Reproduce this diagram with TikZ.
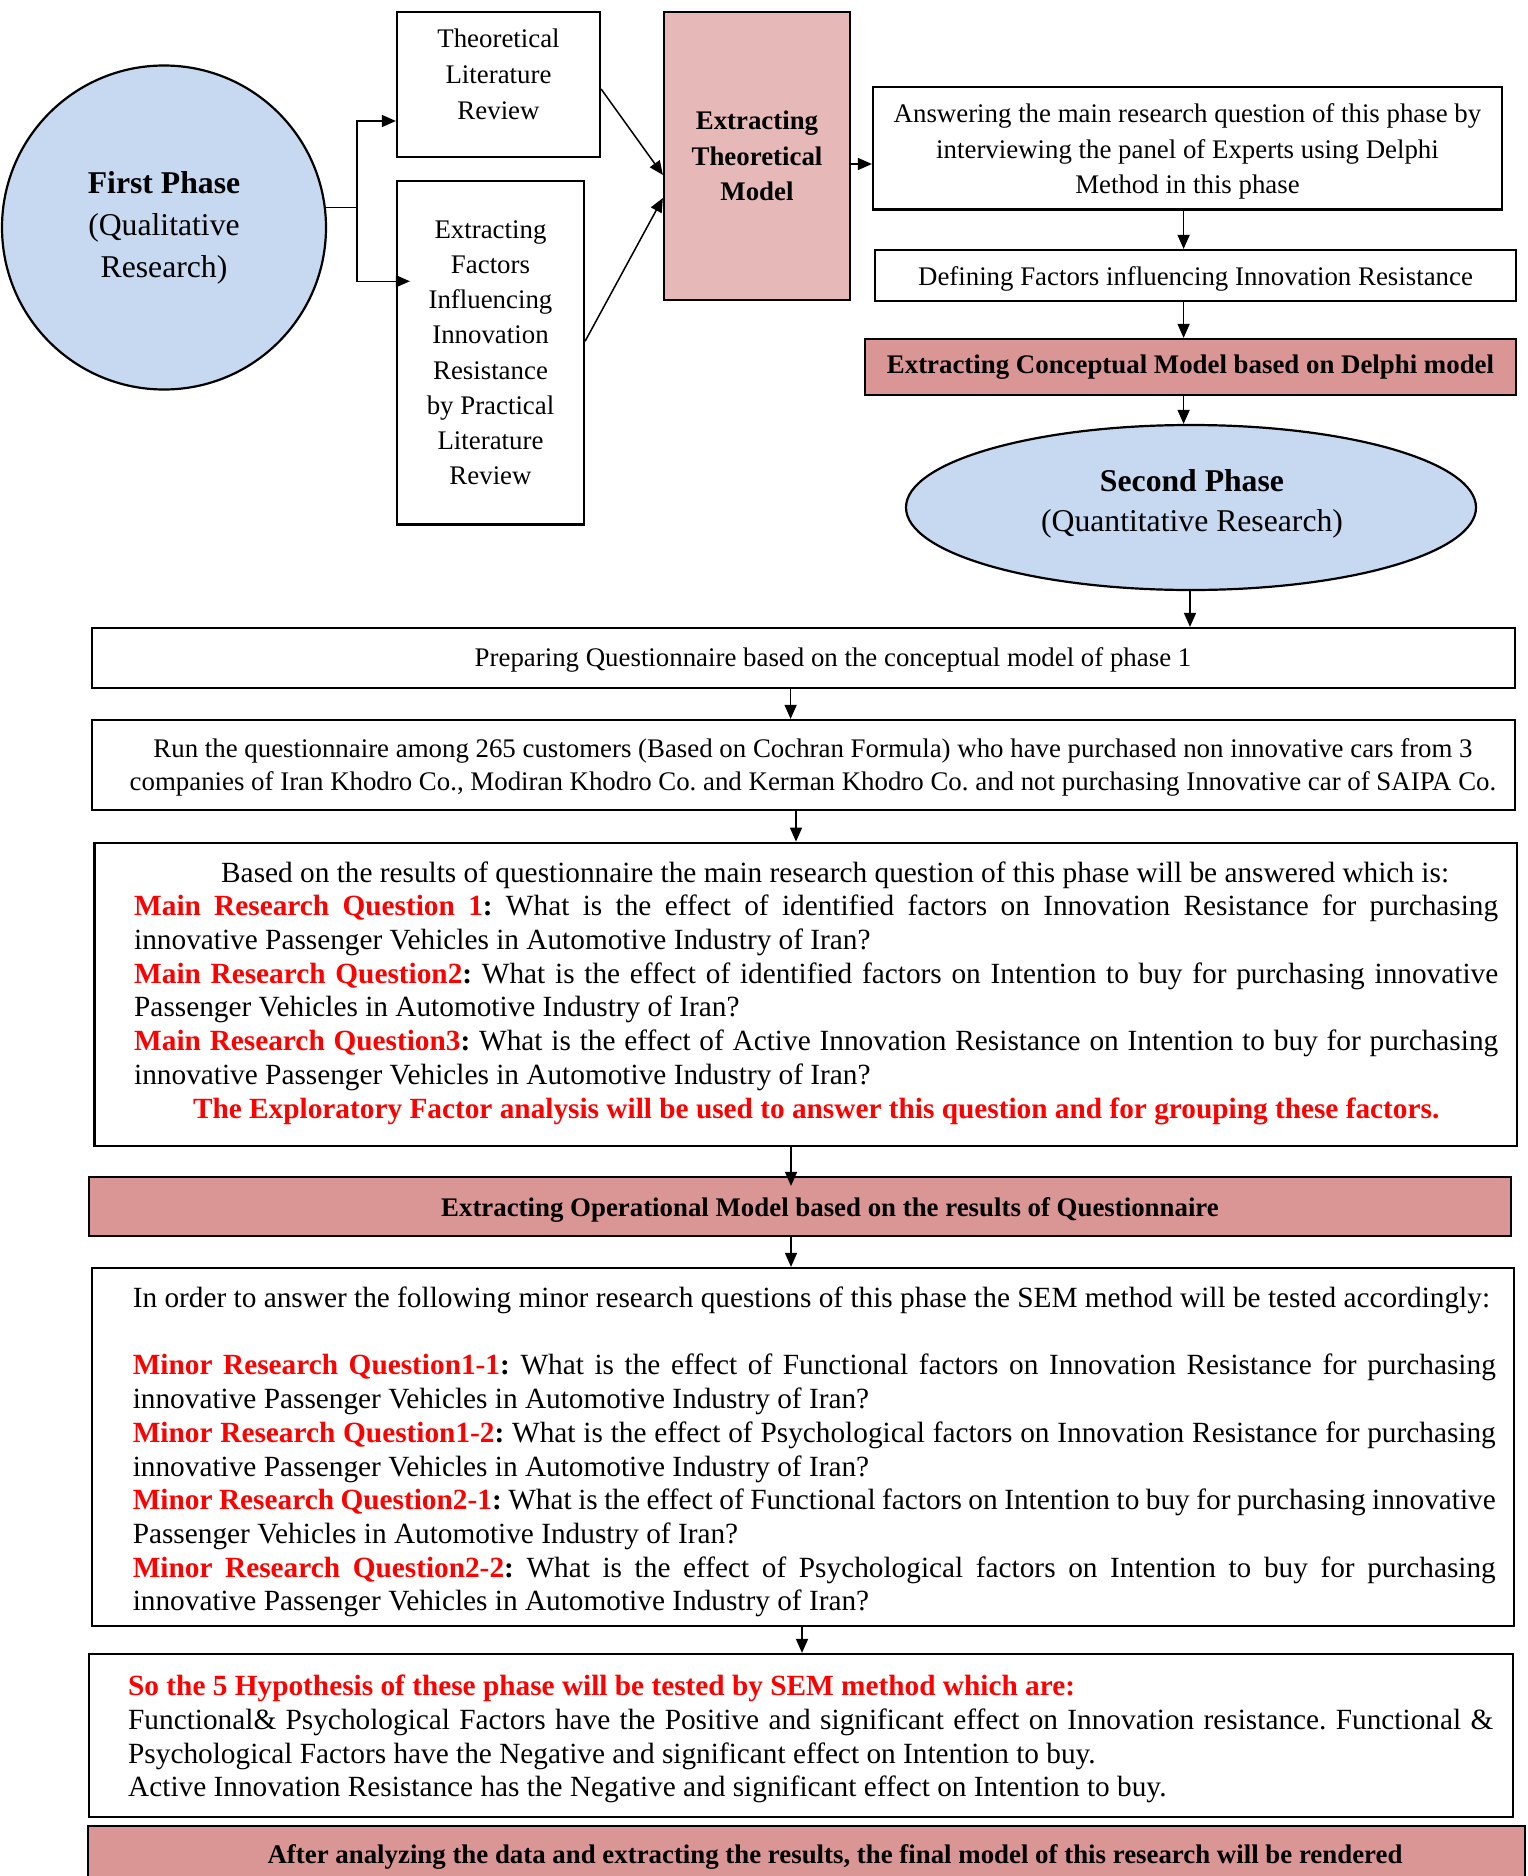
\documentclass[tikz,border=0pt]{standalone}
\usepackage{fontspec}
\setmainfont{Liberation Serif}
\usetikzlibrary{arrows.meta,shapes.geometric}
\frenchspacing
\hyphenpenalty=10000
\definecolor{phaseblue}{HTML}{C6D9F1}
\definecolor{modelpink}{HTML}{E6B9B8}
\definecolor{stagepink}{HTML}{D99694}
\definecolor{qred}{HTML}{FF0000}
% red question label followed by a bold black colon
\newcommand{\qlabel}[1]{\textcolor{qred}{\textbf{#1}}\textbf{:}}
\newcommand{\fsize}[2]{\fontsize{#1}{#2}\selectfont}
% body text of the wide boxes, justified, with interword glue that may stretch and shrink
\newcommand{\bodyfont}{\fsize{29.3}{33.7}\parindent=0pt\tolerance=10000\hbadness=10000
  \spaceskip=0.25em plus 0.5em minus 0.12em\relax}
\begin{document}
\begin{tikzpicture}[x=1pt,y=-1pt,
  box/.style={draw, line width=2.2pt, rectangle, inner sep=0pt},
  txt/.style={inner sep=0pt, align=center},
  para/.style={inner sep=0pt, align=justify, anchor=west, font=\bodyfont},
  conn/.style={line width=1.5pt},
  arrow/.style={line width=1.5pt, -{Triangle[length=14pt,width=12pt]}}]
\useasboundingbox (0,0) rectangle (1528,1876);
\clip (0,0) rectangle (1528,1876);

% ---------- first phase ----------
\node[circle, draw, line width=2.2pt, fill=phaseblue, minimum size=324pt, inner sep=0pt,
      align=center, font=\fsize{31.7}{42}] (fp) at (164,227.5)
      {\textbf{First Phase}\\(Qualitative\\Research)};

\node[box, minimum width=203pt, minimum height=145pt] (tlr) at (498.5,84.5) {};
\node[txt, font=\fsize{26.85}{36}] (tlr-t) at (498.5,74.5) {Theoretical\\Literature\\Review};

\node[box, minimum width=187pt, minimum height=343.5pt, align=center,
      font=\fsize{26.85}{35.1}] (flr) at (490.5,352.75)
      {Extracting\\Factors\\Influencing\\Innovation\\Resistance\\by Practical\\Literature\\Review};

\node[box, fill=modelpink, minimum width=186pt, minimum height=288pt, align=center,
      font=\bfseries\fsize{26.85}{35.3}] (etm) at (757,156)
      {Extracting\\Theoretical\\Model};

\node[box, minimum width=629pt, minimum height=122.5pt] (ans) at (1187.5,148.25) {};
\node[txt, font=\fsize{26.85}{35.3}] (ans-t) at (1187.5,151.5)
      {Answering the main research question of this phase by\\interviewing the panel of Experts using Delphi\\Method in this phase};

\node[box, minimum width=641pt, minimum height=51pt] (def) at (1195.5,275.5) {};
\node[txt, font=\fsize{26.85}{31}] (def-t) at (1195.5,279)
      {Defining Factors influencing Innovation Resistance};

\node[box, fill=stagepink, minimum width=651pt, minimum height=56pt,
      font=\bfseries\fsize{26.85}{31}] (ecm) at (1190.5,367)
      {Extracting Conceptual Model based on Delphi model};

% ---------- second phase ----------
\node[ellipse, draw, line width=2.2pt, fill=phaseblue, minimum width=570pt, minimum height=165pt,
      inner sep=0pt] (sp) at (1191,507.5) {};
\node[txt, font=\fsize{31.7}{40}] (sp-t) at (1192,503.6)
      {\textbf{Second Phase}\\(Quantitative Research)};

\node[box, minimum width=1423pt, minimum height=60pt] (prep) at (803.5,658) {};
\node[txt, font=\fsize{26.85}{31}] (prep-t) at (833,660)
      {Preparing Questionnaire based on the conceptual model of phase 1};

\node[box, minimum width=1423pt, minimum height=90pt] (run) at (803.5,765) {};
\node[txt, font=\fsize{26.85}{32.5}] (run-t) at (813,767.5)
      {Run the questionnaire among 265 customers (Based on Cochran Formula) who have purchased non innovative cars from 3\\
       companies of Iran Khodro Co., Modiran Khodro Co. and Kerman Khodro Co. and not purchasing Innovative car of SAIPA Co.};

\node[box, minimum width=1422.5pt, minimum height=303.3pt] (based) at (805.75,994.35) {};
\node[para, text width=1364pt] (based-t) at (134,993)
      {\hspace*{87pt}Based on the results of questionnaire the main research question of this phase will be answered which is:\\
       \qlabel{Main Research Question 1} What is the effect of identified factors on Innovation Resistance for purchasing\linebreak
       innovative Passenger Vehicles in Automotive Industry of Iran?\\
       \qlabel{Main Research Question2} What is the effect of identified factors on Intention to buy for purchasing innovative\linebreak
       Passenger Vehicles in Automotive Industry of Iran?\\
       \qlabel{Main Research Question3} What is the effect of Active Innovation Resistance on Intention to buy for purchasing\linebreak
       innovative Passenger Vehicles in Automotive Industry of Iran?\\
       \makebox[1364pt]{\textcolor{qred}{\textbf{The Exploratory Factor analysis will be used to answer this question and for grouping these factors.}}}};

\node[box, fill=stagepink, minimum width=1422pt, minimum height=59pt] (eom) at (800,1206.5) {};
\node[txt, font=\bfseries\fsize{26.85}{31}] (eom-t) at (830,1210)
      {Extracting Operational Model based on the results of Questionnaire};

\node[box, minimum width=1422pt, minimum height=358pt] (minor) at (803,1447) {};
\node[para, text width=1363pt] (minor-t) at (132.6,1452)
      {In order to answer the following minor research questions of this phase the SEM method will be tested accordingly:\\[33.7pt]
       \qlabel{Minor Research Question1-1} What is the effect of Functional factors on Innovation Resistance for purchasing\linebreak
       innovative Passenger Vehicles in Automotive Industry of Iran?\\
       \qlabel{Minor Research Question1-2} What is the effect of Psychological factors on Innovation Resistance for purchasing\linebreak
       innovative Passenger Vehicles in Automotive Industry of Iran?\\
       \qlabel{Minor Research Question2-1} What is the effect of Functional factors on Intention to buy for purchasing innovative\linebreak
       Passenger Vehicles in Automotive Industry of Iran?\\
       \qlabel{Minor Research Question2-2} What is the effect of Psychological factors on Intention to buy for purchasing\linebreak
       innovative Passenger Vehicles in Automotive Industry of Iran?};

\node[box, minimum width=1424pt, minimum height=163pt] (hyp) at (801,1735.5) {};
\node[para, text width=1365pt] (hyp-t) at (128,1739.2)
      {\textcolor{qred}{\textbf{So the 5 Hypothesis of these phase will be tested by SEM method which are:}}\\
       Functional\& Psychological Factors have the Positive and significant effect on Innovation resistance. Functional \&\linebreak
       Psychological Factors have the Negative and significant effect on Intention to buy.\\
       Active Innovation Resistance has the Negative and significant effect on Intention to buy.};

\node[box, fill=stagepink, minimum width=1437pt, minimum height=94pt] (final) at (806.5,1873) {};
\node[txt, font=\bfseries\fsize{26.85}{31}] (final-t) at (835,1857)
      {After analyzing the data and extracting the results, the final model of this research will be rendered};

% ---------- connectors ----------
\coordinate (split) at (357,207.8);
\draw[conn] (fp.7) -- (fp.7 -| split);
\draw[arrow] (split) |- ([yshift=-36.5pt]tlr.west);
\draw[arrow] (split) |- ([xshift=14pt,yshift=71.5pt]flr.west);

\draw[arrow] ([yshift=-4.5pt]tlr.east) -- ([yshift=-19pt]etm.west);
\draw[arrow] ([yshift=11.5pt]flr.east) -- ([yshift=-42pt]etm.west);
\draw[arrow] ([yshift=-8pt]etm.east) -- ([yshift=-15.75pt]ans.west);

\coordinate (c1) at (1183.6,0);
\coordinate (c2) at (1190,0);
\coordinate (c3) at (790.6,0);
\coordinate (c4) at (796,0);
\coordinate (c5) at (791,0);
\coordinate (c6) at (802,0);
\draw[arrow] (c1 |- ans.south) -- (c1 |- def.north);
\draw[arrow] (c1 |- def.south) -- (c1 |- ecm.north);
\draw[arrow] (c1 |- ecm.south) -- (c1 |- sp.north);
\draw[arrow] (c2 |- sp.south) -- (c2 |- prep.north);
\draw[arrow] (c3 |- prep.south) -- (c3 |- run.north);
\draw[arrow] (c4 |- run.south) -- (c4 |- based.north);
\draw[arrow] (c5 |- based.south) -- ([yshift=-10pt]c5 |- eom.north);
\draw[arrow] (c5 |- eom.south) -- (c5 |- minor.north);
\draw[arrow] (c6 |- minor.south) -- (c6 |- hyp.north);
\end{tikzpicture}
\end{document}
